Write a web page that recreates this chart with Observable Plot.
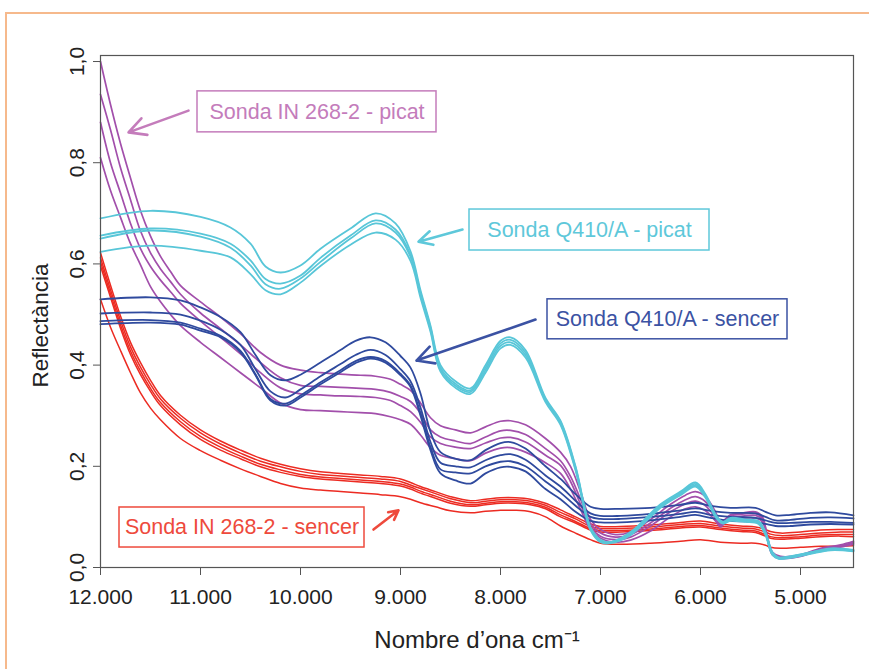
<!DOCTYPE html>
<html>
<head>
<meta charset="utf-8">
<script src="https://cdn.jsdelivr.net/npm/d3@7"></script>
<script src="https://cdn.jsdelivr.net/npm/@observablehq/plot@0.6"></script>
<style>
  html, body { margin: 0; padding: 0; background: #fff; }
  #wrap { position: relative; width: 869px; height: 669px; overflow: hidden; }
  #frame { position: absolute; left: 5px; top: 12px; width: 900px; height: 700px;
           border-top: 2px solid #f6b98c; border-left: 2px solid #f6b98c; pointer-events: none; }
</style>
</head>
<body>
<div id="wrap"><div id="frame"></div></div>
<script>
// ---- tick labels ----
const xTicks = [12000, 11000, 10000, 9000, 8000, 7000, 6000, 5000];
const xTickLabels = ["12.000", "11.000", "10.000", "9.000", "8.000", "7.000", "6.000", "5.000"];
const yTicks = [0, 0.2, 0.4, 0.6, 0.8, 1.0];
const yTickLabels = ["0,0", "0,2", "0,4", "0,6", "0,8", "1,0"];
const xLabel = "Nombre d\u2019ona cm\u207B\u00B9";
const yLabel = "Reflectància";

// ---- Sonda Q410/A - picat (cyan) ----
const xCyan = [12000, 11500, 11000, 10700, 10500, 10350, 10200, 10000, 9800, 9500, 9250, 9050, 8900, 8800, 8700, 8600, 8450, 8300, 8150, 8000, 7900, 7750, 7550, 7400, 7250, 7100, 7000, 6900, 6700, 6400, 6200, 6050, 5950, 5850, 5780, 5700, 5550, 5420, 5350, 5280, 5220, 5100, 4900, 4700, 4470];
const cyan1 = [0.690, 0.705, 0.693, 0.672, 0.640, 0.595, 0.583, 0.597, 0.630, 0.670, 0.700, 0.680, 0.625, 0.548, 0.478, 0.400, 0.368, 0.354, 0.400, 0.448, 0.455, 0.430, 0.335, 0.290, 0.200, 0.080, 0.055, 0.050, 0.070, 0.125, 0.150, 0.168, 0.145, 0.105, 0.090, 0.098, 0.095, 0.092, 0.070, 0.030, 0.020, 0.022, 0.030, 0.038, 0.035];
const cyan2 = [0.656, 0.670, 0.660, 0.640, 0.607, 0.570, 0.561, 0.577, 0.612, 0.656, 0.686, 0.668, 0.618, 0.543, 0.474, 0.395, 0.363, 0.350, 0.395, 0.443, 0.450, 0.425, 0.332, 0.288, 0.198, 0.078, 0.053, 0.050, 0.068, 0.123, 0.148, 0.165, 0.142, 0.103, 0.090, 0.096, 0.094, 0.090, 0.068, 0.028, 0.020, 0.022, 0.030, 0.036, 0.034];
const cyan3 = [0.650, 0.666, 0.654, 0.632, 0.597, 0.560, 0.551, 0.571, 0.604, 0.650, 0.680, 0.662, 0.614, 0.539, 0.470, 0.391, 0.359, 0.347, 0.390, 0.438, 0.445, 0.420, 0.330, 0.285, 0.195, 0.076, 0.052, 0.050, 0.066, 0.120, 0.146, 0.162, 0.140, 0.101, 0.088, 0.094, 0.092, 0.088, 0.066, 0.026, 0.018, 0.020, 0.028, 0.035, 0.033];
const cyan4 = [0.624, 0.636, 0.626, 0.613, 0.580, 0.548, 0.540, 0.563, 0.596, 0.638, 0.662, 0.648, 0.606, 0.533, 0.466, 0.387, 0.355, 0.343, 0.385, 0.433, 0.440, 0.415, 0.327, 0.282, 0.192, 0.074, 0.050, 0.048, 0.064, 0.118, 0.143, 0.160, 0.138, 0.100, 0.087, 0.092, 0.090, 0.086, 0.064, 0.025, 0.017, 0.019, 0.027, 0.034, 0.032];

// ---- Sonda Q410/A - sencer (dark blue) ----
const xBlue = [12000, 11500, 11200, 11000, 10800, 10600, 10450, 10300, 10150, 10000, 9800, 9600, 9450, 9300, 9150, 9000, 8900, 8800, 8700, 8600, 8450, 8300, 8150, 8000, 7900, 7750, 7550, 7400, 7250, 7100, 7000, 6800, 6500, 6200, 6050, 5900, 5700, 5450, 5350, 5250, 5100, 4900, 4700, 4470];
const blue1 = [0.530, 0.534, 0.528, 0.514, 0.495, 0.465, 0.420, 0.380, 0.370, 0.381, 0.405, 0.430, 0.448, 0.455, 0.445, 0.418, 0.395, 0.344, 0.268, 0.228, 0.215, 0.212, 0.232, 0.246, 0.248, 0.235, 0.200, 0.175, 0.145, 0.120, 0.116, 0.116, 0.118, 0.124, 0.128, 0.122, 0.118, 0.118, 0.110, 0.103, 0.104, 0.108, 0.109, 0.103];
const blue2 = [0.502, 0.504, 0.500, 0.488, 0.470, 0.440, 0.392, 0.348, 0.336, 0.352, 0.378, 0.402, 0.420, 0.430, 0.420, 0.392, 0.368, 0.316, 0.248, 0.207, 0.200, 0.198, 0.212, 0.222, 0.224, 0.213, 0.182, 0.160, 0.132, 0.107, 0.102, 0.102, 0.106, 0.113, 0.117, 0.112, 0.108, 0.107, 0.100, 0.093, 0.094, 0.098, 0.099, 0.097];
const blue3 = [0.487, 0.489, 0.484, 0.472, 0.458, 0.428, 0.382, 0.333, 0.324, 0.340, 0.366, 0.390, 0.408, 0.416, 0.408, 0.383, 0.360, 0.305, 0.238, 0.194, 0.188, 0.186, 0.200, 0.209, 0.210, 0.200, 0.170, 0.148, 0.122, 0.100, 0.096, 0.096, 0.100, 0.106, 0.110, 0.104, 0.100, 0.098, 0.093, 0.088, 0.088, 0.090, 0.090, 0.088];
const blue4 = [0.481, 0.484, 0.480, 0.468, 0.455, 0.425, 0.380, 0.330, 0.320, 0.336, 0.362, 0.386, 0.404, 0.413, 0.405, 0.380, 0.357, 0.300, 0.232, 0.186, 0.172, 0.166, 0.186, 0.198, 0.199, 0.190, 0.155, 0.135, 0.110, 0.092, 0.089, 0.089, 0.093, 0.100, 0.104, 0.098, 0.092, 0.090, 0.086, 0.082, 0.082, 0.085, 0.086, 0.085];

// ---- Sonda IN 268-2 - picat (purple) ----
const xPurple = [12000, 11900, 11800, 11700, 11600, 11500, 11400, 11300, 11200, 11000, 10800, 10600, 10400, 10200, 10000, 9800, 9600, 9400, 9250, 9100, 9000, 8900, 8800, 8700, 8600, 8450, 8300, 8150, 8000, 7900, 7750, 7550, 7400, 7300, 7200, 7100, 7000, 6850, 6700, 6500, 6300, 6150, 6050, 5950, 5850, 5800, 5750, 5700, 5600, 5450, 5380, 5330, 5280, 5200, 5000, 4800, 4600, 4470];
const purple1 = [1.000, 0.915, 0.838, 0.770, 0.705, 0.655, 0.615, 0.585, 0.557, 0.525, 0.495, 0.462, 0.425, 0.400, 0.390, 0.385, 0.382, 0.380, 0.378, 0.372, 0.362, 0.350, 0.325, 0.296, 0.280, 0.272, 0.266, 0.278, 0.289, 0.290, 0.282, 0.255, 0.228, 0.200, 0.150, 0.095, 0.075, 0.065, 0.070, 0.095, 0.125, 0.143, 0.150, 0.140, 0.110, 0.088, 0.096, 0.104, 0.107, 0.110, 0.100, 0.060, 0.030, 0.022, 0.025, 0.038, 0.045, 0.052];
const purple2 = [0.935, 0.865, 0.790, 0.727, 0.665, 0.622, 0.590, 0.565, 0.540, 0.503, 0.472, 0.440, 0.405, 0.375, 0.360, 0.358, 0.356, 0.354, 0.352, 0.346, 0.338, 0.328, 0.305, 0.272, 0.258, 0.250, 0.245, 0.258, 0.270, 0.271, 0.263, 0.235, 0.211, 0.180, 0.135, 0.087, 0.068, 0.060, 0.065, 0.088, 0.117, 0.134, 0.140, 0.130, 0.104, 0.085, 0.094, 0.102, 0.105, 0.107, 0.097, 0.058, 0.028, 0.020, 0.024, 0.036, 0.043, 0.050];
const purple3 = [0.880, 0.800, 0.740, 0.680, 0.630, 0.595, 0.568, 0.545, 0.522, 0.487, 0.455, 0.422, 0.385, 0.355, 0.343, 0.341, 0.339, 0.338, 0.336, 0.330, 0.320, 0.308, 0.287, 0.258, 0.245, 0.238, 0.235, 0.246, 0.256, 0.257, 0.248, 0.222, 0.202, 0.170, 0.125, 0.080, 0.062, 0.055, 0.060, 0.082, 0.110, 0.126, 0.131, 0.122, 0.098, 0.082, 0.092, 0.099, 0.101, 0.103, 0.094, 0.056, 0.026, 0.019, 0.023, 0.035, 0.042, 0.048];
const purple4 = [0.810, 0.745, 0.692, 0.640, 0.598, 0.555, 0.525, 0.500, 0.478, 0.445, 0.415, 0.385, 0.355, 0.325, 0.312, 0.310, 0.308, 0.306, 0.304, 0.298, 0.292, 0.283, 0.262, 0.237, 0.222, 0.215, 0.211, 0.226, 0.236, 0.237, 0.228, 0.207, 0.186, 0.155, 0.115, 0.075, 0.058, 0.050, 0.054, 0.072, 0.100, 0.116, 0.120, 0.112, 0.092, 0.080, 0.090, 0.095, 0.097, 0.098, 0.090, 0.054, 0.025, 0.018, 0.022, 0.034, 0.040, 0.046];

// ---- Sonda IN 268-2 - sencer (red) ----
const xRed = [12000, 11900, 11800, 11700, 11600, 11500, 11400, 11200, 11000, 10800, 10600, 10400, 10200, 10000, 9800, 9600, 9400, 9200, 9000, 8900, 8800, 8650, 8500, 8300, 8150, 8000, 7850, 7700, 7550, 7400, 7250, 7100, 7000, 6800, 6500, 6200, 6000, 5800, 5600, 5450, 5350, 5300, 5200, 5000, 4800, 4600, 4470];
const red1 = [0.622, 0.558, 0.497, 0.445, 0.405, 0.370, 0.340, 0.301, 0.272, 0.250, 0.232, 0.216, 0.204, 0.195, 0.189, 0.186, 0.183, 0.180, 0.175, 0.168, 0.160, 0.150, 0.140, 0.132, 0.135, 0.138, 0.138, 0.135, 0.127, 0.114, 0.100, 0.086, 0.081, 0.081, 0.084, 0.089, 0.092, 0.086, 0.082, 0.080, 0.075, 0.071, 0.068, 0.070, 0.074, 0.075, 0.075];
const red2 = [0.612, 0.549, 0.488, 0.436, 0.396, 0.362, 0.333, 0.295, 0.266, 0.244, 0.226, 0.210, 0.199, 0.190, 0.184, 0.181, 0.178, 0.175, 0.170, 0.163, 0.156, 0.146, 0.136, 0.128, 0.131, 0.134, 0.134, 0.131, 0.123, 0.109, 0.096, 0.081, 0.077, 0.077, 0.080, 0.085, 0.087, 0.082, 0.078, 0.076, 0.070, 0.066, 0.063, 0.065, 0.068, 0.070, 0.070];
const red3 = [0.604, 0.541, 0.480, 0.428, 0.388, 0.354, 0.326, 0.288, 0.259, 0.238, 0.220, 0.204, 0.193, 0.184, 0.179, 0.176, 0.173, 0.170, 0.165, 0.159, 0.151, 0.141, 0.131, 0.124, 0.127, 0.130, 0.130, 0.127, 0.119, 0.104, 0.091, 0.077, 0.073, 0.073, 0.076, 0.081, 0.083, 0.078, 0.074, 0.072, 0.065, 0.061, 0.059, 0.061, 0.064, 0.065, 0.065];
const red4 = [0.596, 0.534, 0.473, 0.421, 0.381, 0.348, 0.320, 0.282, 0.253, 0.232, 0.215, 0.199, 0.188, 0.180, 0.175, 0.172, 0.169, 0.166, 0.161, 0.155, 0.147, 0.137, 0.127, 0.121, 0.124, 0.127, 0.127, 0.124, 0.116, 0.100, 0.088, 0.074, 0.070, 0.070, 0.073, 0.078, 0.080, 0.075, 0.071, 0.069, 0.062, 0.058, 0.056, 0.058, 0.061, 0.062, 0.061];
const red5 = [0.530, 0.475, 0.429, 0.385, 0.345, 0.315, 0.292, 0.255, 0.231, 0.212, 0.195, 0.180, 0.166, 0.157, 0.153, 0.150, 0.147, 0.144, 0.140, 0.135, 0.128, 0.120, 0.112, 0.108, 0.111, 0.113, 0.113, 0.110, 0.100, 0.082, 0.068, 0.055, 0.048, 0.046, 0.048, 0.052, 0.055, 0.050, 0.048, 0.048, 0.044, 0.040, 0.038, 0.040, 0.042, 0.042, 0.043];

// ---- annotation labels ----
const annoLabels = ["Sonda IN 268-2 - picat", "Sonda Q410/A - picat", "Sonda Q410/A - sencer", "Sonda IN 268-2 - sencer"];
const annoColors = ["#c47cbb", "#5ec8da", "#3b52a3", "#ee4a3c"];
// box extents (data units: wavenumber, reflectance)
const boxX1 = [11030, 8310, 7530, 11810];
const boxX2 = [8640, 5910, 5130, 9360];
const boxY1 = [0.860, 0.6265, 0.451, 0.0395];
const boxY2 = [0.941, 0.7075, 0.530, 0.1186];
// arrows (tail -> head)
const arrX1 = [11120, 8380, 7650, 9270];
const arrY1 = [0.903, 0.668, 0.490, 0.075];
const arrX2 = [11720, 8820, 8840, 9020];
const arrY2 = [0.860, 0.644, 0.409, 0.113];

const lineColors = {cyan: "#58c6d8", blue: "#2f4a9e", purple: "#a24fab", red: "#ec2b22"};

function series(name, xs, ys) { return xs.map((x, i) => ({series: name, wn: x, r: ys[i]})); }
const redData = [].concat(series("r1", xRed, red1), series("r2", xRed, red2), series("r3", xRed, red3), series("r4", xRed, red4), series("r5", xRed, red5));
const purpleData = [].concat(series("p1", xPurple, purple1), series("p2", xPurple, purple2), series("p3", xPurple, purple3), series("p4", xPurple, purple4));
const blueData = [].concat(series("b1", xBlue, blue1), series("b2", xBlue, blue2), series("b3", xBlue, blue3), series("b4", xBlue, blue4));
const cyanData = [].concat(series("c1", xCyan, cyan1), series("c2", xCyan, cyan2), series("c3", xCyan, cyan3), series("c4", xCyan, cyan4));

const annos = annoLabels.map((t, i) => ({
  text: t, color: annoColors[i],
  x1: boxX1[i], x2: boxX2[i], y1: boxY1[i], y2: boxY2[i],
  ax1: arrX1[i], ay1: arrY1[i], ax2: arrX2[i], ay2: arrY2[i]
}));

const lineOpts = (color, w) => ({x: "wn", y: "r", z: "series", stroke: color, strokeWidth: w, curve: "catmull-rom"});
const NARROW = "'Liberation Sans Narrow', 'Arial Narrow', sans-serif";

const chart = Plot.plot({
  width: 869,
  height: 669,
  marginLeft: 100,
  marginRight: 16,
  marginTop: 55,
  marginBottom: 102,
  style: {background: "transparent", fontFamily: "'Liberation Sans', Arial, Helvetica, sans-serif", color: "#222"},
  x: {domain: [12000, 4470]},
  y: {domain: [0, 1.0119]},
  marks: [
    Plot.line(redData, lineOpts(lineColors.red, 1.5)),
    Plot.line(purpleData, lineOpts(lineColors.purple, 1.7)),
    Plot.line(blueData, lineOpts(lineColors.blue, 1.8)),
    Plot.line(cyanData, lineOpts(lineColors.cyan, 1.8)),
    Plot.frame({stroke: "#555", strokeWidth: 1.2}),
    Plot.axisX(xTicks, {tickSize: 8, tickPadding: 14, fontSize: 21, fontFamily: NARROW, stroke: "#555",
      tickFormat: d => xTickLabels[xTicks.indexOf(d)], label: null}),
    Plot.axisY(yTicks, {tickSize: 7, stroke: "#555", tickFormat: () => "", label: null}),
    Plot.text(yTicks, {y: d => d, text: d => yTickLabels[yTicks.indexOf(d)], frameAnchor: "left",
      textAnchor: "middle", lineAnchor: "middle", dx: -23, rotate: -90, fontSize: 21, fontFamily: NARROW, fill: "#222"}),
    Plot.text([xLabel], {text: d => d, frameAnchor: "bottom", textAnchor: "middle", lineAnchor: "middle",
      dy: 73, fontSize: 24, fontFamily: NARROW, fill: "#222"}),
    Plot.text([yLabel], {text: d => d, frameAnchor: "left", textAnchor: "middle", lineAnchor: "middle",
      dx: -60, dy: 14, rotate: -90, fontSize: 22.5, fontFamily: NARROW, fill: "#222"}),
    Plot.rect(annos, {x1: "x1", x2: "x2", y1: "y1", y2: "y2", fill: "none", stroke: "color", strokeWidth: 1.5}),
    Plot.text(annos, {x: d => (d.x1 + d.x2) / 2, y: d => (d.y1 + d.y2) / 2, text: "text", fill: "color", fontSize: 21.5}),
    Plot.arrow(annos, {x1: "ax1", y1: "ay1", x2: "ax2", y2: "ay2", stroke: "color", strokeWidth: 2.6, headLength: 11, headAngle: 55})
  ]
});
document.getElementById("wrap").insertBefore(chart, document.getElementById("frame"));
</script>
</body>
</html>
